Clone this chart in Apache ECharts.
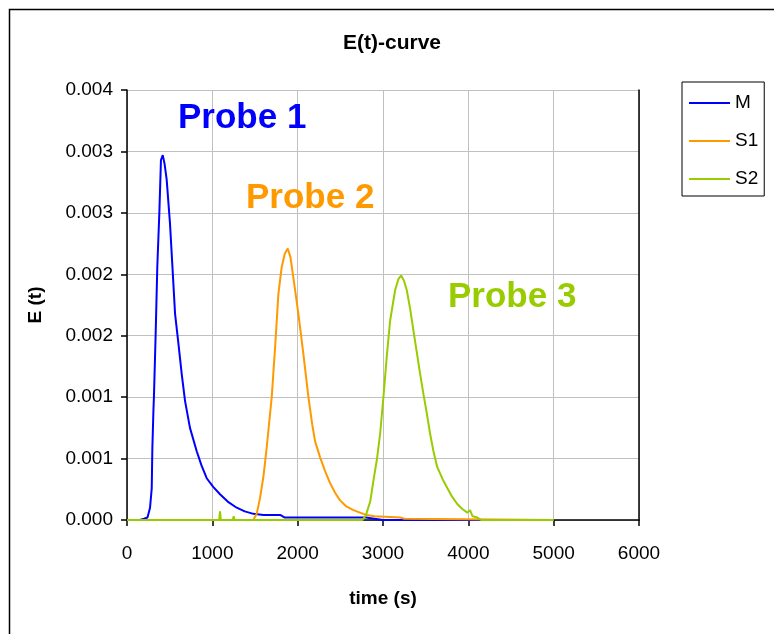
<!DOCTYPE html>
<html>
<head>
<meta charset="utf-8">
<script src="https://cdn.jsdelivr.net/npm/echarts@6/dist/echarts.min.js"></script>
<style>html,body{margin:0;padding:0;background:#fff;}#c{width:774px;height:634px;}</style>
</head>
<body>
<div id="c"></div>
<script>
// ---- data ----
var seriesNames = ['M', 'S1', 'S2'];
var probeLabels = ['Probe 1', 'Probe 2', 'Probe 3'];
var yTickLabels = ['0.000', '0.001', '0.001', '0.002', '0.002', '0.003', '0.003', '0.004'];
var xTickLabels = ['0', '1000', '2000', '3000', '4000', '5000', '6000'];

var mTime  = [0, 150, 200, 240, 270, 290, 297, 310, 316, 336, 355, 379, 398, 419, 440, 465, 504, 535, 563, 602, 641, 680, 738, 817, 875, 934, 1010, 1090, 1180, 1286, 1380, 1481, 1600, 1800, 1850, 2800, 2900, 3000, 5000];
var mValue = [0, 0, 0.00001, 0.00002, 0.0001, 0.00026, 0.00058, 0.0009, 0.00101, 0.00152, 0.00206, 0.0025, 0.00293, 0.00297, 0.0029, 0.00277, 0.00241, 0.00203, 0.00168, 0.00144, 0.00119, 0.00097, 0.00075, 0.00056, 0.00044, 0.00034, 0.00027, 0.00021, 0.00015, 0.0001, 0.00007, 0.00005, 0.00004, 0.00004, 0.00002, 0.00002, 0.00001, 0, 0];

var s1Time  = [0, 1480, 1520, 1559, 1600, 1637, 1696, 1735, 1774, 1813, 1850, 1884, 1915, 1950, 2008, 2067, 2126, 2170, 2204, 2263, 2320, 2380, 2440, 2497, 2570, 2653, 2730, 2810, 2900, 3200, 3250, 5000];
var s1Value = [0, 0, 0.00005, 0.00018, 0.00036, 0.00059, 0.001, 0.0014, 0.00184, 0.00206, 0.00217, 0.00221, 0.00214, 0.00197, 0.00168, 0.00135, 0.001, 0.00078, 0.00064, 0.00051, 0.0004, 0.0003, 0.00022, 0.00016, 0.00011, 0.00008, 0.00006, 0.00004, 0.00003, 0.00002, 0.00001, 0];

var s2Time  = [0, 1080, 1090, 1100, 1240, 1250, 1260, 2760, 2800, 2850, 2888, 2930, 2966, 3005, 3044, 3083, 3142, 3180, 3212, 3245, 3279, 3320, 3357, 3395, 3435, 3475, 3513, 3550, 3591, 3636, 3700, 3753, 3810, 3870, 3930, 3988, 4020, 4050, 4105, 4150, 5000];
var s2Value = [0, 0, 0.00007, 0, 0, 0.00003, 0, 0, 0.00004, 0.00015, 0.00032, 0.0005, 0.0007, 0.001, 0.00133, 0.00162, 0.00187, 0.00196, 0.00199, 0.00195, 0.00187, 0.00171, 0.00154, 0.00137, 0.00119, 0.00102, 0.00087, 0.00071, 0.00056, 0.00043, 0.00033, 0.00026, 0.00019, 0.00013, 0.00009, 0.00006, 0.00008, 0.00003, 0.00002, 0, 0];

// ---- build ----
function zip(t, v) { var out = []; for (var i = 0; i < t.length; i++) out.push([t[i], v[i]]); return out; }
var colors = ['#0000FF', '#FF9900', '#99CC00'];
var FONT = '"Liberation Sans", Arial, Helvetica, sans-serif';

var chart = echarts.init(document.getElementById('c'), null, {renderer: 'canvas'});
var series = [
  {name: seriesNames[0], data: zip(mTime, mValue)},
  {name: seriesNames[1], data: zip(s1Time, s1Value)},
  {name: seriesNames[2], data: zip(s2Time, s2Value)}
].map(function (s, i) {
  return {
    name: s.name, type: 'line', data: s.data, showSymbol: false, symbol: 'none',
    lineStyle: {color: colors[i], width: 2}, itemStyle: {color: colors[i]},
    z: 2 + i, animation: false
  };
});

var option = {
  animation: false,
  backgroundColor: '#ffffff',
  grid: {left: 127, top: 90, right: 135, bottom: 114, containLabel: false},
  legend: {
    orient: 'vertical', left: 682, top: 82,
    data: seriesNames, icon: 'rect', itemWidth: 41, itemHeight: 2, itemGap: 18,
    padding: [11, 6, 7, 7],
    borderColor: '#000', borderWidth: 1,
    textStyle: {fontFamily: FONT, fontSize: 19, color: '#000', lineHeight: 20}
  },
  xAxis: {
    type: 'value', min: 0, max: 6000, interval: 1000,
    name: 'time (s)', nameLocation: 'middle', nameGap: 69,
    nameTextStyle: {fontFamily: FONT, fontSize: 19, fontWeight: 'bold', color: '#000'},
    axisLine: {show: true, onZero: false, lineStyle: {color: '#000', width: 1.5}},
    axisTick: {show: true, length: 6, lineStyle: {color: '#000', width: 1.5}},
    axisLabel: {margin: 24, fontFamily: FONT, fontSize: 19, color: '#000',
      formatter: function (v) { return xTickLabels[Math.round(v / 1000)]; }},
    splitLine: {show: true, lineStyle: {color: '#c0c0c0', width: 1}}
  },
  yAxis: [{
    type: 'value', min: 0, max: 0.0035, interval: 0.0005,
    name: 'E (t)', nameLocation: 'middle', nameGap: 82, nameRotate: 90,
    nameTextStyle: {fontFamily: FONT, fontSize: 19, fontWeight: 'bold', color: '#000'},
    axisLine: {show: true, lineStyle: {color: '#000', width: 1.5}},
    axisTick: {show: true, length: 6, lineStyle: {color: '#000', width: 1.5}},
    axisLabel: {margin: 14, fontFamily: FONT, fontSize: 19, color: '#000',
      formatter: function (v) { return yTickLabels[Math.round(v / 0.0005)]; }},
    splitLine: {show: true, lineStyle: {color: '#c0c0c0', width: 1}}
  }, {
    type: 'value', min: 0, max: 0.0035, interval: 0.0005, position: 'right',
    axisLine: {show: true, lineStyle: {color: '#000', width: 1.5}},
    axisTick: {show: false}, axisLabel: {show: false}, splitLine: {show: false}
  }],
  series: series,
  graphic: [
    {type: 'rect', left: 7, top: 7, shape: {width: 820, height: 700}, style: {fill: 'none', stroke: '#000', lineWidth: 1.5}, silent: true, z: 100},
    {type: 'text', x: 392, y: 43, style: {text: 'E(t)-curve', fill: '#000', font: 'bold 21px ' + FONT, textAlign: 'center', textVerticalAlign: 'middle'}, z: 100},
    {type: 'text', x: 178, y: 118, style: {text: probeLabels[0], fill: colors[0], font: 'bold 35px ' + FONT, textAlign: 'left', textVerticalAlign: 'middle'}, z: 100},
    {type: 'text', x: 246, y: 198, style: {text: probeLabels[1], fill: colors[1], font: 'bold 35px ' + FONT, textAlign: 'left', textVerticalAlign: 'middle'}, z: 100},
    {type: 'text', x: 448, y: 297, style: {text: probeLabels[2], fill: colors[2], font: 'bold 35px ' + FONT, textAlign: 'left', textVerticalAlign: 'middle'}, z: 100}
  ]
};
chart.setOption(option);
</script>
</body>
</html>
